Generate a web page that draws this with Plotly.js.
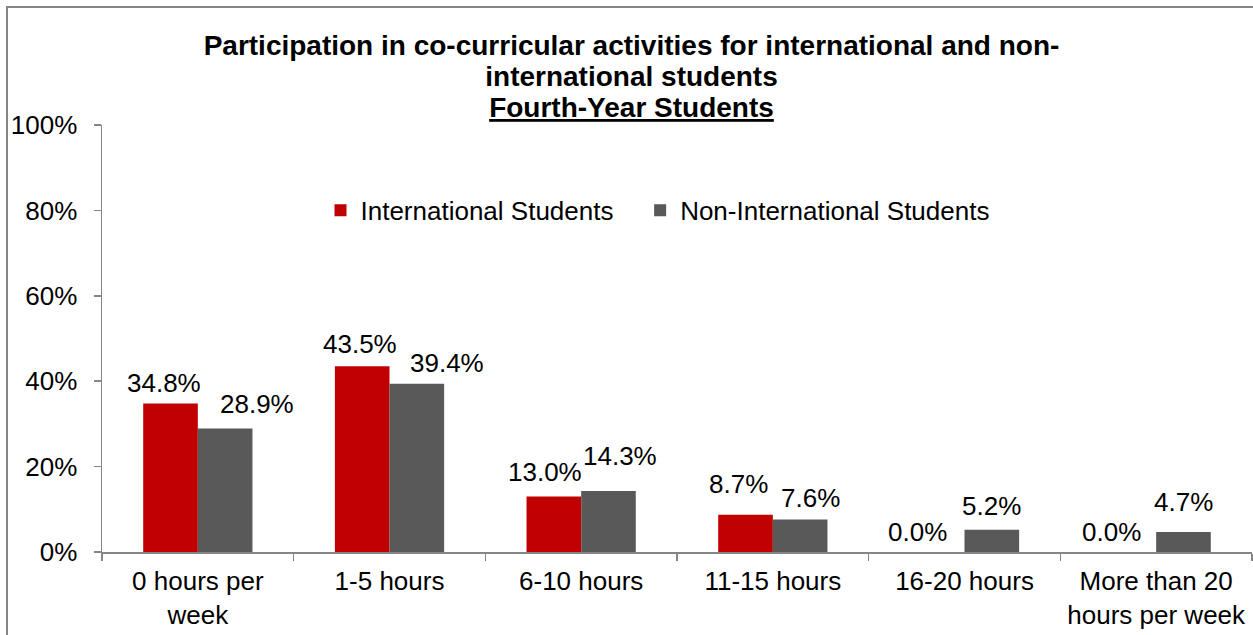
<!DOCTYPE html>
<html>
<head>
<meta charset="utf-8">
<script src="https://cdn.plot.ly/plotly-3.0.1.min.js"></script>
<style>
  html, body { margin: 0; padding: 0; background: #ffffff; }
  #chart { width: 1253px; height: 635px; }
</style>
</head>
<body>
<div id="chart"></div>
<script>
// ---- Data ----
const categories = ["0 hours per<br>week", "1-5 hours", "6-10 hours", "11-15 hours", "16-20 hours", "More than 20<br>hours per week"];
const internationalValues = [34.8, 43.5, 13.0, 8.7, 0.0, 0.0];
const nonInternationalValues = [28.9, 39.4, 14.3, 7.6, 5.2, 4.7];
const yTickValues = [0, 20, 40, 60, 80, 100];
const yTickLabels = ["0%", "20%", "40%", "60%", "80%", "100%"];
const seriesNames = ["International Students", "Non-International Students"];
const titleLines = [
  "Participation in co-curricular activities for international and non-",
  "international students",
  "Fourth-Year Students"
];

// ---- Style (label nudges in pixels, as placed in the original chart) ----
const intlLabelDx = [-7, -2, -9, -7, -20, -17];
const intlLabelDy = [9, 11, 13, 20, 9, 9];
const nonLabelDx = [32, 30, 12, 10, 0, 0];
const nonLabelDy = [14, 10, 24, 11, 13, 19];

const RED = "#C00000";
const GRAY = "#595959";
const AXIS = "#868686";
const FONT = "Liberation Sans, Arial, sans-serif";
const FS = 26;
const LEGEND_PAD = "\u00a0\u00a0\u00a0";

const L = 102, R = 1, T = 125, B = 83, W = 1253, H = 635;
const plotW = W - L - R, plotH = H - T - B;
const bargap = 0.43;
const halfBar = (plotW / categories.length) * (1 - bargap) / 4;

const traces = [
  {
    type: "bar", name: seriesNames[0] + LEGEND_PAD, x: categories, y: internationalValues,
    marker: { color: RED }, hoverinfo: "x+y"
  },
  {
    type: "bar", name: seriesNames[1], x: categories, y: nonInternationalValues,
    marker: { color: GRAY }, hoverinfo: "x+y"
  }
];

const annotations = [];
categories.forEach((c, i) => {
  annotations.push({
    x: c, y: internationalValues[i], xref: "x", yref: "y",
    text: internationalValues[i].toFixed(1) + "%", showarrow: false,
    xanchor: "center", yanchor: "bottom",
    xshift: -halfBar + intlLabelDx[i], yshift: intlLabelDy[i] - 6,
    font: { family: FONT, size: FS, color: "#000000" }
  });
  annotations.push({
    x: c, y: nonInternationalValues[i], xref: "x", yref: "y",
    text: nonInternationalValues[i].toFixed(1) + "%", showarrow: false,
    xanchor: "center", yanchor: "bottom",
    xshift: halfBar + nonLabelDx[i], yshift: nonLabelDy[i] - 6,
    font: { family: FONT, size: FS, color: "#000000" }
  });
});

const big = s => '<span style="font-size:28px">' + s + '</span>';
const titleText = "<b>" + big(titleLines[0]) + "<br>" + big(titleLines[1]) + "<br>" + big("<u>" + titleLines[2] + "</u>") + "</b>";

const layout = {
  width: W, height: H,
  margin: { l: L, r: R, t: T, b: B, pad: 0 },
  paper_bgcolor: "#ffffff", plot_bgcolor: "#ffffff",
  font: { family: FONT, size: FS, color: "#000000" },
  title: {
    text: titleText,
    font: { family: FONT, size: 24, color: "#000000" },
    x: 631.5 / W, xref: "container", xanchor: "center",
    y: 0.914, yref: "container", yanchor: "top"
  },
  barmode: "group", bargap: bargap, bargroupgap: 0,
  showlegend: true,
  legend: {
    orientation: "h", x: 0.190, xref: "paper", xanchor: "left",
    y: 0.800, yref: "paper", yanchor: "middle",
    font: { family: FONT, size: FS, color: "#000000" },
    bgcolor: "rgba(0,0,0,0)", traceorder: "normal"
  },
  xaxis: {
    type: "category", tickson: "boundaries", ticks: "outside", ticklen: 7,
    tickcolor: AXIS, tickwidth: 1.5,
    showline: true, linecolor: AXIS, linewidth: 1.5,
    showgrid: false, zeroline: false, ticklabelstandoff: 5,
    tickfont: { family: FONT, size: FS, color: "#000000" },
    fixedrange: true
  },
  yaxis: {
    range: [0, 100], tickvals: yTickValues, ticktext: yTickLabels,
    ticks: "outside", ticklen: 7, tickcolor: AXIS, tickwidth: 1.5,
    showline: true, linecolor: AXIS, linewidth: 1.5,
    showgrid: false, zeroline: false, ticklabelstandoff: 11,
    tickfont: { family: FONT, size: FS, color: "#000000" },
    fixedrange: true
  },
  annotations: annotations,
  shapes: [{
    type: "rect", xref: "paper", yref: "paper",
    x0: (7 - L) / plotW, x1: (W + 10 - L) / plotW,
    y0: (H - B - (H + 10)) / plotH, y1: (H - B - 7) / plotH,
    line: { color: AXIS, width: 2 }, fillcolor: "rgba(0,0,0,0)", layer: "below"
  }]
};

Plotly.newPlot("chart", traces, layout, { displayModeBar: false, staticPlot: true });
</script>
</body>
</html>
